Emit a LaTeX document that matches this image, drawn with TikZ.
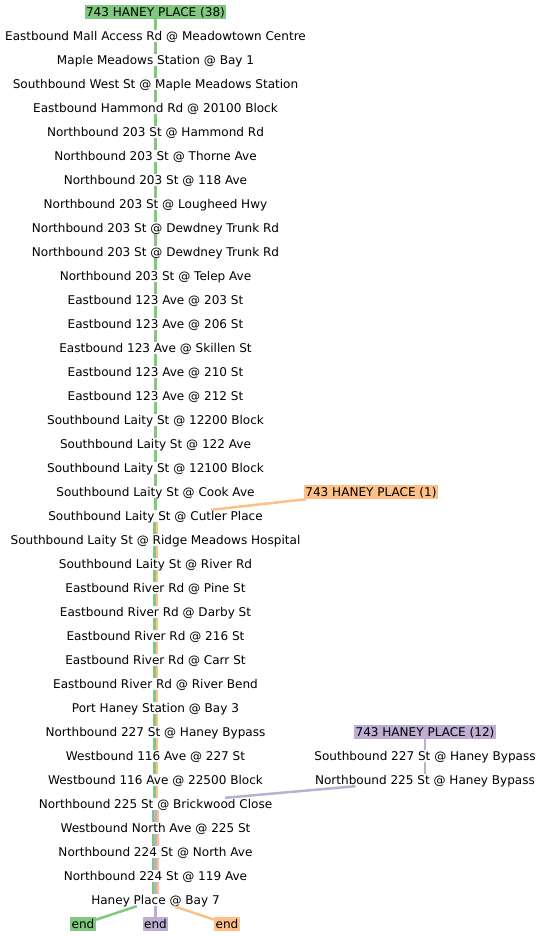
\documentclass[tikz,border=0pt]{standalone}
\usepackage{fontspec}
\setmainfont{DejaVu Sans}
\definecolor{accgreen}{HTML}{7FC97F}
\definecolor{accpurple}{HTML}{BEAED4}
\definecolor{accorange}{HTML}{FDC086}
\newcommand{\stopfont}{\fontsize{12.05}{14}\selectfont}

\tikzset{
  stop/.style={font=\stopfont, inner xsep=1pt, inner ysep=0pt, text height=10.3pt, text depth=1.7pt},
  routebox/.style={stop, fill=#1, inner xsep=1.5pt, inner ysep=1pt},
  seg/.style={line width=2.5pt}
}

\begin{document}
\begin{tikzpicture}[x=1pt, y=-1pt]
  \useasboundingbox[fill=white] (0,-1) rectangle (543,935);
  % route heads
  \node[routebox=accgreen] (s0) at (155.5,11) {743 HANEY PLACE (38)};
  \node[routebox=accorange] (hp1) at (371,491) {743 HANEY PLACE (1)};
  \node[routebox=accpurple] (hp12) at (425,731) {743 HANEY PLACE (12)};
  % main column of stops
  \node[stop] (s1) at (155.5,35) {Eastbound Mall Access Rd @ Meadowtown Centre};
  \node[stop] (s2) at (155.5,59) {Maple Meadows Station @ Bay 1};
  \node[stop] (s3) at (155.5,83) {Southbound West St @ Maple Meadows Station};
  \node[stop] (s4) at (155.5,107) {Eastbound Hammond Rd @ 20100 Block};
  \node[stop] (s5) at (155.5,131) {Northbound 203 St @ Hammond Rd};
  \node[stop] (s6) at (155.5,155) {Northbound 203 St @ Thorne Ave};
  \node[stop] (s7) at (155.5,179) {Northbound 203 St @ 118 Ave};
  \node[stop] (s8) at (155.5,203) {Northbound 203 St @ Lougheed Hwy};
  \node[stop] (s9) at (155.5,227) {Northbound 203 St @ Dewdney Trunk Rd};
  \node[stop] (s10) at (155.5,251) {Northbound 203 St @ Dewdney Trunk Rd};
  \node[stop] (s11) at (155.5,275) {Northbound 203 St @ Telep Ave};
  \node[stop] (s12) at (155.5,299) {Eastbound 123 Ave @ 203 St};
  \node[stop] (s13) at (155.5,323) {Eastbound 123 Ave @ 206 St};
  \node[stop] (s14) at (155.5,347) {Eastbound 123 Ave @ Skillen St};
  \node[stop] (s15) at (155.5,371) {Eastbound 123 Ave @ 210 St};
  \node[stop] (s16) at (155.5,395) {Eastbound 123 Ave @ 212 St};
  \node[stop] (s17) at (155.5,419) {Southbound Laity St @ 12200 Block};
  \node[stop] (s18) at (155.5,443) {Southbound Laity St @ 122 Ave};
  \node[stop] (s19) at (155.5,467) {Southbound Laity St @ 12100 Block};
  \node[stop] (s20) at (155.5,491) {Southbound Laity St @ Cook Ave};
  \node[stop] (s21) at (155.5,515) {Southbound Laity St @ Cutler Place};
  \node[stop] (s22) at (155.5,539) {Southbound Laity St @ Ridge Meadows Hospital};
  \node[stop] (s23) at (155.5,563) {Southbound Laity St @ River Rd};
  \node[stop] (s24) at (155.5,587) {Eastbound River Rd @ Pine St};
  \node[stop] (s25) at (155.5,611) {Eastbound River Rd @ Darby St};
  \node[stop] (s26) at (155.5,635) {Eastbound River Rd @ 216 St};
  \node[stop] (s27) at (155.5,659) {Eastbound River Rd @ Carr St};
  \node[stop] (s28) at (155.5,683) {Eastbound River Rd @ River Bend};
  \node[stop] (s29) at (155.5,707) {Port Haney Station @ Bay 3};
  \node[stop] (s30) at (155.5,731) {Northbound 227 St @ Haney Bypass};
  \node[stop] (s31) at (155.5,755) {Westbound 116 Ave @ 227 St};
  \node[stop] (s32) at (155.5,779) {Westbound 116 Ave @ 22500 Block};
  \node[stop] (s33) at (155.5,803) {Northbound 225 St @ Brickwood Close};
  \node[stop] (s34) at (155.5,827) {Westbound North Ave @ 225 St};
  \node[stop] (s35) at (155.5,851) {Northbound 224 St @ North Ave};
  \node[stop] (s36) at (155.5,875) {Northbound 224 St @ 119 Ave};
  \node[stop] (s37) at (155.5,899) {Haney Place @ Bay 7};
  % side branch of route 12
  \node[stop] (sb227) at (425,755) {Southbound 227 St @ Haney Bypass};
  \node[stop] (nb225) at (425,779) {Northbound 225 St @ Haney Bypass};
  % ends
  \node[routebox=accgreen] (endA) at (83,923) {end};
  \node[routebox=accpurple] (endB) at (155.5,923) {end};
  \node[routebox=accorange] (endC) at (227,923) {end};

  % green alone
  \foreach \i in {0,...,20} {
    \pgfmathtruncatemacro\j{\i+1}
    \draw[seg, accgreen] (s\i.south) -- (s\j.north);
  }
  % green and orange
  \draw[seg, accorange] (hp1) -- (s21);
  \foreach \i in {21,...,32} {
    \pgfmathtruncatemacro\j{\i+1}
    \draw[seg, accgreen] ([xshift=-1.25pt]s\i.south) -- ([xshift=-1.25pt]s\j.north);
    \draw[seg, accorange] ([xshift=1.25pt]s\i.south) -- ([xshift=1.25pt]s\j.north);
  }
  % purple joins
  \draw[seg, accpurple] (hp12) -- (sb227);
  \draw[seg, accpurple] (sb227) -- (nb225);
  \draw[seg, accpurple] (nb225) -- (s33);
  \foreach \i in {33,...,36} {
    \pgfmathtruncatemacro\j{\i+1}
    \draw[seg, accgreen] ([xshift=-2.5pt]s\i.south) -- ([xshift=-2.5pt]s\j.north);
    \draw[seg, accpurple] (s\i.south) -- (s\j.north);
    \draw[seg, accorange] ([xshift=2.5pt]s\i.south) -- ([xshift=2.5pt]s\j.north);
  }
  \draw[seg, accgreen] (s37) -- (endA);
  \draw[seg, accpurple] (s37) -- (endB);
  \draw[seg, accorange] (s37) -- (endC);
\end{tikzpicture}
\end{document}
